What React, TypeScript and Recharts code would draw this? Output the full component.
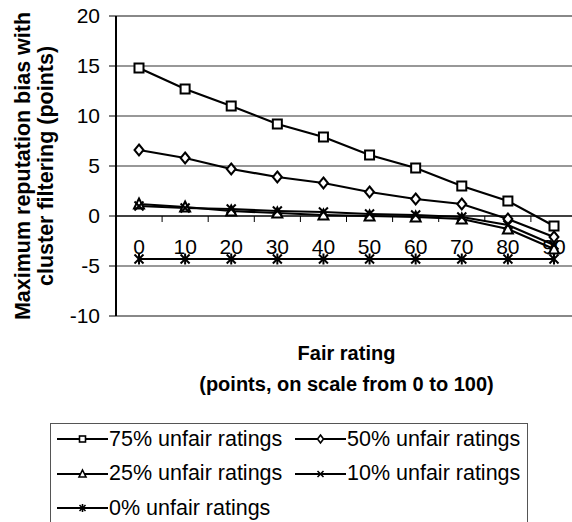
import { LineChart, Line, XAxis, YAxis, ReferenceLine, Legend } from 'recharts';

const FAIR_RATINGS = [0, 10, 20, 30, 40, 50, 60, 70, 80, 90];
const UNFAIR_75 = [14.8, 12.7, 11.0, 9.2, 7.9, 6.1, 4.8, 3.0, 1.5, -1.0];
const UNFAIR_50 = [6.6, 5.8, 4.7, 3.9, 3.3, 2.4, 1.7, 1.2, -0.3, -2.1];
const UNFAIR_25 = [1.2, 0.9, 0.5, 0.3, 0.1, 0.0, -0.1, -0.3, -1.3, -3.3];
const UNFAIR_10 = [1.0, 0.8, 0.7, 0.5, 0.4, 0.2, 0.1, -0.1, -0.9, -2.9];
const UNFAIR_0 = [-4.3, -4.3, -4.3, -4.3, -4.3, -4.3, -4.3, -4.3, -4.3, -4.3];
const Y_TICKS = [-10, -5, 0, 5, 10, 15, 20];

type Marker = 'square' | 'diamond' | 'triangle' | 'cross' | 'star';

const SERIES: { key: string; name: string; marker: Marker }[] = [
  { key: 'u75', name: '75% unfair ratings', marker: 'square' },
  { key: 'u50', name: '50% unfair ratings', marker: 'diamond' },
  { key: 'u25', name: '25% unfair ratings', marker: 'triangle' },
  { key: 'u10', name: '10% unfair ratings', marker: 'cross' },
  { key: 'u0', name: '0% unfair ratings', marker: 'star' },
];

const data = FAIR_RATINGS.map((r, i) => ({
  rating: r,
  u75: UNFAIR_75[i],
  u50: UNFAIR_50[i],
  u25: UNFAIR_25[i],
  u10: UNFAIR_10[i],
  u0: UNFAIR_0[i],
}));

const FONT = '"Liberation Sans", Arial, sans-serif';

function MarkerShape({ kind, cx, cy, s, sw }: { kind: Marker; cx: number; cy: number; s: number; sw: number }) {
  const h = s / 2;
  if (kind === 'square') {
    return <rect x={cx - h} y={cy - h} width={s} height={s} fill="#fff" stroke="#000" strokeWidth={sw} />;
  }
  if (kind === 'diamond') {
    return (
      <polygon
        points={`${cx},${cy - h - 1} ${cx + h},${cy} ${cx},${cy + h + 1} ${cx - h},${cy}`}
        fill="#fff"
        stroke="#000"
        strokeWidth={sw}
      />
    );
  }
  if (kind === 'triangle') {
    return (
      <polygon
        points={`${cx},${cy - h - 1} ${cx + h + 0.5},${cy + h} ${cx - h - 0.5},${cy + h}`}
        fill="#fff"
        stroke="#000"
        strokeWidth={sw}
      />
    );
  }
  if (kind === 'cross') {
    return (
      <g stroke="#000" strokeWidth={sw}>
        <line x1={cx - h} y1={cy - h} x2={cx + h} y2={cy + h} />
        <line x1={cx - h} y1={cy + h} x2={cx + h} y2={cy - h} />
      </g>
    );
  }
  return (
    <g stroke="#000" strokeWidth={sw}>
      <line x1={cx - h} y1={cy - h} x2={cx + h} y2={cy + h} />
      <line x1={cx - h} y1={cy + h} x2={cx + h} y2={cy - h} />
      <line x1={cx} y1={cy - h - 1} x2={cx} y2={cy + h + 1} />
    </g>
  );
}

// horizontal axis sits on y = 0, with ticks between the categories
function ZeroAxis(props: any) {
  const { x1, x2, y1 } = props;
  const band = (x2 - x1) / FAIR_RATINGS.length;
  return (
    <g>
      <line x1={x1} y1={y1} x2={x2} y2={y1} stroke="#000" strokeWidth={1.5} />
      {FAIR_RATINGS.map((r, i) => (
        <g key={r}>
          {i > 0 && <line x1={x1 + band * i} y1={y1} x2={x1 + band * i} y2={y1 + 6} stroke="#000" strokeWidth={1} />}
          <text
            x={x1 + band * (i + 0.5)}
            y={y1 + 38}
            textAnchor="middle"
            fontSize={21}
            fontFamily={FONT}
            fill="#000"
          >
            {r}
          </text>
        </g>
      ))}
    </g>
  );
}

function YTitle(props: any) {
  const vb = props.viewBox;
  const cy = vb.y + vb.height / 2;
  const lines = ['Maximum reputation bias with', 'cluster filtering (points)'];
  const xs = [30, 53];
  return (
    <g>
      {lines.map((t, i) => (
        <text
          key={t}
          x={xs[i]}
          y={cy}
          transform={`rotate(-90, ${xs[i]}, ${cy})`}
          textAnchor="middle"
          fontSize={21.5}
          fontWeight="bold"
          fontFamily={FONT}
          fill="#000"
        >
          {t}
        </text>
      ))}
    </g>
  );
}

function XTitle(props: any) {
  const vb = props.viewBox;
  const cx = vb.x + vb.width / 2;
  return (
    <g fontFamily={FONT} fontWeight="bold" fontSize={20} fill="#000" textAnchor="middle">
      <text x={cx} y={vb.y + 44}>Fair rating</text>
      <text x={cx} y={vb.y + 75}>(points, on scale from 0 to 100)</text>
    </g>
  );
}

function LegendBox() {
  const rows = [
    [SERIES[0], SERIES[1]],
    [SERIES[2], SERIES[3]],
    [SERIES[4]],
  ];
  return (
    <div
      style={{
        width: 476,
        height: 110,
        border: '1px solid #555',
        background: '#fff',
        position: 'relative',
        fontFamily: FONT,
        fontSize: 21.5,
        color: '#000',
      }}
    >
      {rows.map((row, ri) =>
        row.map((s, ci) => (
          <div
            key={s.key}
            style={{
              position: 'absolute',
              left: ci === 0 ? 6 : 244,
              top: 3 + ri * 34.5,
              height: 24,
              display: 'flex',
              alignItems: 'center',
              whiteSpace: 'nowrap',
            }}
          >
            <svg width={51} height={24}>
              <line x1={0} y1={12} x2={51} y2={12} stroke="#000" strokeWidth={2} />
              <MarkerShape kind={s.marker} cx={25.5} cy={12} s={6} sw={1.6} />
            </svg>
            <span style={{ marginLeft: 1 }}>{s.name}</span>
          </div>
        )),
      )}
    </div>
  );
}

export default function App() {
  return (
    <div style={{ position: 'absolute', left: 0, top: 0, width: 572, height: 522, overflow: 'hidden', background: '#fff' }}>
      <LineChart width={582} height={540} data={data} margin={{ top: 16, right: 5, bottom: 224, left: 56 }}>
        <XAxis
          dataKey="rating"
          type="category"
          height={0}
          axisLine={false}
          tickLine={false}
          tick={false}
          padding={{ left: 23, right: 23 }}
        />
        <YAxis
          width={60}
          domain={[-10, 20]}
          ticks={Y_TICKS}
          interval={0}
          axisLine={{ stroke: '#000', strokeWidth: 2 }}
          tickLine={{ stroke: '#000', strokeWidth: 1 }}
          tickSize={7}
          tickMargin={9}
          tick={{ fontSize: 21, fill: '#000', fontFamily: FONT }}
          label={{ content: YTitle }}
        />
        <ReferenceLine y={20} stroke="#888" strokeWidth={2} />
        <ReferenceLine y={-10} stroke="#888" strokeWidth={2} label={{ content: XTitle }} />
        {[15, 10, 5, -5].map((v) => (
          <ReferenceLine key={v} y={v} stroke="#333" strokeWidth={1.2} />
        ))}
        <ReferenceLine y={0} shape={ZeroAxis} />
        {SERIES.map((s) => (
          <Line
            key={s.key}
            dataKey={s.key}
            name={s.name}
            stroke="#000"
            strokeWidth={2.2}
            isAnimationActive={false}
            dot={(p: any) => (
              <MarkerShape key={`${s.key}-${p.index}`} kind={s.marker} cx={p.cx} cy={p.cy} s={9} sw={2} />
            )}
          />
        ))}
        <Legend
          layout="vertical"
          align="center"
          verticalAlign="middle"
          wrapperStyle={{ left: 50, top: 423, width: 478 }}
          content={() => <LegendBox />}
        />
      </LineChart>
    </div>
  );
}
